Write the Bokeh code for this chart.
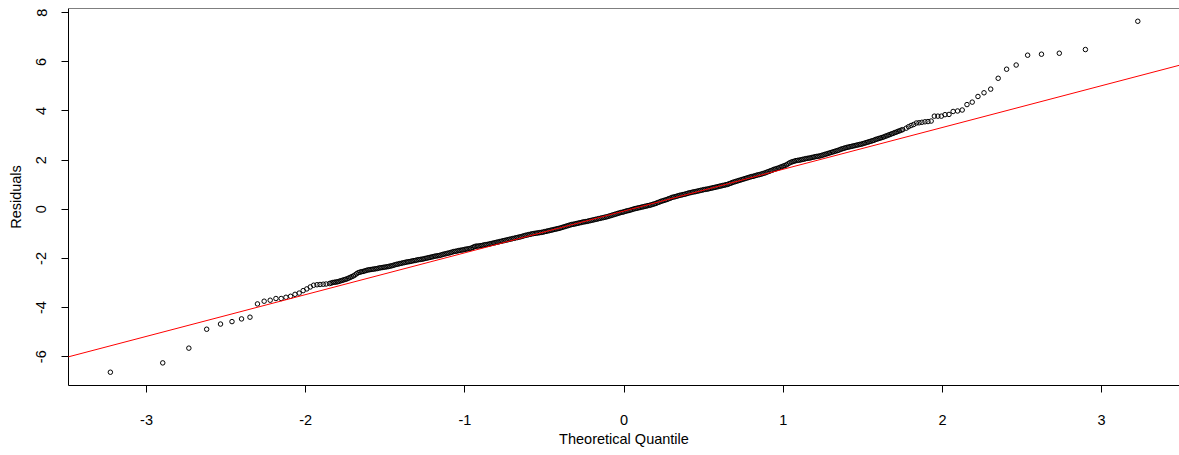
from bokeh.plotting import figure
from bokeh.models import FixedTicker, Slope, Span, Range1d
from bokeh.embed import file_html
from bokeh.resources import INLINE

# Theoretical quantiles (x) and sorted residuals (y)
tail_low_theo = [-3.227, -2.898, -2.734, -2.622, -2.535, -2.463, -2.403, -2.350, -2.303, -2.261,
                 -2.223, -2.187, -2.154, -2.124, -2.095, -2.067, -2.041, -2.016, -1.993, -1.971,
                 -1.950, -1.929, -1.910, -1.890, -1.872]
tail_low_resid = [-6.63, -6.25, -5.65, -4.88, -4.67, -4.57, -4.46, -4.39, -3.85, -3.74,
                  -3.70, -3.63, -3.63, -3.58, -3.54, -3.46, -3.41, -3.31, -3.24, -3.16,
                  -3.09, -3.07, -3.06, -3.05, -3.04]

mid_theo = [
    -1.85, -1.84, -1.83, -1.82, -1.81, -1.80, -1.79, -1.78, -1.77, -1.76,
    -1.75, -1.74, -1.73, -1.72, -1.71, -1.70, -1.69, -1.68, -1.67, -1.66,
    -1.65, -1.64, -1.63, -1.62, -1.61, -1.60, -1.59, -1.58, -1.57, -1.56,
    -1.55, -1.54, -1.53, -1.52, -1.51, -1.50, -1.49, -1.48, -1.47, -1.46,
    -1.45, -1.44, -1.43, -1.42, -1.41, -1.40, -1.39, -1.38, -1.37, -1.36,
    -1.35, -1.34, -1.33, -1.32, -1.31, -1.30, -1.29, -1.28, -1.27, -1.26,
    -1.25, -1.24, -1.23, -1.22, -1.21, -1.20, -1.19, -1.18, -1.17, -1.16,
    -1.15, -1.14, -1.13, -1.12, -1.11, -1.10, -1.09, -1.08, -1.07, -1.06,
    -1.05, -1.04, -1.03, -1.02, -1.01, -1.00, -0.99, -0.98, -0.97, -0.96,
    -0.95, -0.94, -0.93, -0.92, -0.91, -0.90, -0.89, -0.88, -0.87, -0.86,
    -0.85, -0.84, -0.83, -0.82, -0.81, -0.80, -0.79, -0.78, -0.77, -0.76,
    -0.75, -0.74, -0.73, -0.72, -0.71, -0.70, -0.69, -0.68, -0.67, -0.66,
    -0.65, -0.64, -0.63, -0.62, -0.61, -0.60, -0.59, -0.58, -0.57, -0.56,
    -0.55, -0.54, -0.53, -0.52, -0.51, -0.50, -0.49, -0.48, -0.47, -0.46,
    -0.45, -0.44, -0.43, -0.42, -0.41, -0.40, -0.39, -0.38, -0.37, -0.36,
    -0.35, -0.34, -0.33, -0.32, -0.31, -0.30, -0.29, -0.28, -0.27, -0.26,
    -0.25, -0.24, -0.23, -0.22, -0.21, -0.20, -0.19, -0.18, -0.17, -0.16,
    -0.15, -0.14, -0.13, -0.12, -0.11, -0.10, -0.09, -0.08, -0.07, -0.06,
    -0.05, -0.04, -0.03, -0.02, -0.01, 0.00, 0.01, 0.02, 0.03, 0.04,
    0.05, 0.06, 0.07, 0.08, 0.09, 0.10, 0.11, 0.12, 0.13, 0.14,
    0.15, 0.16, 0.17, 0.18, 0.19, 0.20, 0.21, 0.22, 0.23, 0.24,
    0.25, 0.26, 0.27, 0.28, 0.29, 0.30, 0.31, 0.32, 0.33, 0.34,
    0.35, 0.36, 0.37, 0.38, 0.39, 0.40, 0.41, 0.42, 0.43, 0.44,
    0.45, 0.46, 0.47, 0.48, 0.49, 0.50, 0.51, 0.52, 0.53, 0.54,
    0.55, 0.56, 0.57, 0.58, 0.59, 0.60, 0.61, 0.62, 0.63, 0.64,
    0.65, 0.66, 0.67, 0.68, 0.69, 0.70, 0.71, 0.72, 0.73, 0.74,
    0.75, 0.76, 0.77, 0.78, 0.79, 0.80, 0.81, 0.82, 0.83, 0.84,
    0.85, 0.86, 0.87, 0.88, 0.89, 0.90, 0.91, 0.92, 0.93, 0.94,
    0.95, 0.96, 0.97, 0.98, 0.99, 1.00, 1.01, 1.02, 1.03, 1.04,
    1.05, 1.06, 1.07, 1.08, 1.09, 1.10, 1.11, 1.12, 1.13, 1.14,
    1.15, 1.16, 1.17, 1.18, 1.19, 1.20, 1.21, 1.22, 1.23, 1.24,
    1.25, 1.26, 1.27, 1.28, 1.29, 1.30, 1.31, 1.32, 1.33, 1.34,
    1.35, 1.36, 1.37, 1.38, 1.39, 1.40, 1.41, 1.42, 1.43, 1.44,
    1.45, 1.46, 1.47, 1.48, 1.49, 1.50, 1.51, 1.52, 1.53, 1.54,
    1.55, 1.56, 1.57, 1.58, 1.59, 1.60, 1.61, 1.62, 1.63, 1.64,
    1.65, 1.66, 1.67, 1.68, 1.69, 1.70, 1.71, 1.72, 1.73, 1.74,
    1.75]
mid_resid = [
    -3.02, -3.00, -2.98, -2.97, -2.96, -2.95, -2.93, -2.91, -2.89, -2.87,
    -2.85, -2.83, -2.80, -2.77, -2.74, -2.71, -2.67, -2.62, -2.58, -2.56,
    -2.54, -2.53, -2.51, -2.49, -2.47, -2.46, -2.45, -2.44, -2.43, -2.42,
    -2.41, -2.39, -2.38, -2.37, -2.36, -2.35, -2.34, -2.33, -2.31, -2.30,
    -2.28, -2.26, -2.24, -2.23, -2.21, -2.20, -2.18, -2.17, -2.15, -2.14,
    -2.13, -2.12, -2.10, -2.09, -2.08, -2.06, -2.05, -2.04, -2.03, -2.02,
    -2.00, -1.99, -1.97, -1.96, -1.94, -1.93, -1.91, -1.90, -1.89, -1.88,
    -1.86, -1.84, -1.82, -1.81, -1.79, -1.78, -1.76, -1.74, -1.72, -1.71,
    -1.70, -1.68, -1.67, -1.66, -1.65, -1.63, -1.62, -1.61, -1.60, -1.58,
    -1.55, -1.52, -1.50, -1.50, -1.49, -1.48, -1.47, -1.45, -1.44, -1.43,
    -1.42, -1.40, -1.39, -1.37, -1.36, -1.34, -1.33, -1.31, -1.30, -1.28,
    -1.27, -1.25, -1.24, -1.22, -1.21, -1.19, -1.18, -1.16, -1.15, -1.13,
    -1.12, -1.10, -1.08, -1.06, -1.05, -1.03, -1.02, -1.00, -0.99, -0.98,
    -0.97, -0.96, -0.95, -0.94, -0.93, -0.91, -0.90, -0.88, -0.87, -0.85,
    -0.84, -0.82, -0.81, -0.79, -0.78, -0.76, -0.74, -0.72, -0.70, -0.68,
    -0.66, -0.64, -0.62, -0.61, -0.60, -0.58, -0.57, -0.55, -0.54, -0.52,
    -0.51, -0.50, -0.49, -0.47, -0.46, -0.44, -0.43, -0.41, -0.40, -0.38,
    -0.37, -0.35, -0.34, -0.32, -0.31, -0.29, -0.27, -0.25, -0.23, -0.21,
    -0.19, -0.17, -0.15, -0.13, -0.12, -0.10, -0.08, -0.06, -0.05, -0.03,
    -0.01, 0.01, 0.03, 0.04, 0.06, 0.07, 0.09, 0.10, 0.12, 0.13,
    0.15, 0.16, 0.18, 0.20, 0.22, 0.24, 0.27, 0.29, 0.32, 0.34,
    0.36, 0.38, 0.40, 0.43, 0.45, 0.48, 0.50, 0.51, 0.53, 0.55,
    0.57, 0.58, 0.60, 0.61, 0.63, 0.65, 0.67, 0.68, 0.70, 0.71,
    0.72, 0.74, 0.75, 0.77, 0.78, 0.80, 0.81, 0.82, 0.83, 0.85,
    0.86, 0.88, 0.89, 0.91, 0.92, 0.94, 0.95, 0.97, 0.98, 1.00,
    1.01, 1.04, 1.06, 1.09, 1.11, 1.13, 1.15, 1.17, 1.19, 1.21,
    1.23, 1.25, 1.27, 1.29, 1.31, 1.33, 1.34, 1.36, 1.38, 1.40,
    1.41, 1.43, 1.45, 1.47, 1.49, 1.52, 1.54, 1.57, 1.59, 1.62,
    1.64, 1.66, 1.68, 1.71, 1.73, 1.76, 1.78, 1.81, 1.85, 1.89,
    1.92, 1.94, 1.96, 1.98, 1.99, 2.00, 2.01, 2.03, 2.04, 2.06,
    2.07, 2.08, 2.09, 2.11, 2.12, 2.14, 2.15, 2.16, 2.17, 2.19,
    2.21, 2.23, 2.25, 2.27, 2.29, 2.31, 2.33, 2.35, 2.37, 2.39,
    2.41, 2.44, 2.46, 2.48, 2.50, 2.52, 2.53, 2.55, 2.56, 2.58,
    2.59, 2.61, 2.62, 2.64, 2.65, 2.67, 2.69, 2.71, 2.73, 2.75,
    2.77, 2.79, 2.81, 2.84, 2.86, 2.88, 2.90, 2.92, 2.94, 2.97,
    2.99, 3.02, 3.04, 3.07, 3.09, 3.12, 3.14, 3.17, 3.19, 3.22,
    3.24]

tail_high_theo = [1.772, 1.787, 1.803, 1.819, 1.836, 1.853, 1.871, 1.890, 1.909, 1.929,
                  1.949, 1.971, 1.993, 2.016, 2.041, 2.067, 2.095, 2.124, 2.154, 2.187,
                  2.223, 2.261, 2.303, 2.350, 2.403, 2.463, 2.535, 2.622, 2.734, 2.898,
                  3.227]
tail_high_resid = [3.30, 3.36, 3.41, 3.45, 3.51, 3.52, 3.54, 3.56, 3.57, 3.59,
                   3.79, 3.79, 3.79, 3.85, 3.86, 3.98, 4.00, 4.04, 4.26, 4.36,
                   4.59, 4.74, 4.89, 5.33, 5.70, 5.87, 6.27, 6.31, 6.35, 6.50,
                   7.65]

# Reference line (qqline) parameters
line_slope = 1.70
line_intercept = -0.07

x_ticks = [-3, -2, -1, 0, 1, 2, 3]
y_ticks = [-6, -4, -2, 0, 2, 4, 6, 8]
x_title = "Theoretical Quantile"
y_title = "Residuals"

theo = tail_low_theo + mid_theo + tail_high_theo
resid = tail_low_resid + mid_resid + tail_high_resid

FONT = "Liberation Sans"
FS = "14.5px"
Y_TOP = 8.17

p = figure(width=1179, height=449,
           x_range=Range1d(-3.49, 3.489), y_range=Range1d(-7.17, Y_TOP),
           output_backend="svg", toolbar_location=None,
           min_border_left=68, min_border_right=0, min_border_top=8, min_border_bottom=64)
p.outline_line_color = None
p.grid.visible = False
p.background_fill_color = "white"
p.border_fill_color = "white"

p.scatter(theo, resid, marker="circle", size=4.5, fill_color=None,
          line_color="black", line_width=1)

p.add_layout(Slope(gradient=line_slope, y_intercept=line_intercept,
                   line_color="#ff0000", line_width=1))
p.add_layout(Span(location=Y_TOP, dimension="width", line_color="black", line_width=1))

for ax in (p.xaxis[0], p.yaxis[0]):
    ax.axis_line_color = "black"
    ax.axis_line_width = 1
    ax.major_tick_in = 0
    ax.major_tick_out = 7
    ax.major_tick_line_color = "black"
    ax.minor_tick_line_color = None
    ax.major_label_text_font = FONT
    ax.major_label_text_font_size = FS
    ax.major_label_text_color = "black"
    ax.axis_label_text_font = FONT
    ax.axis_label_text_font_size = FS
    ax.axis_label_text_font_style = "normal"
    ax.axis_label_text_color = "black"

p.xaxis.ticker = FixedTicker(ticks=x_ticks)
p.xaxis.major_label_overrides = {t: str(t) for t in x_ticks}
p.xaxis.axis_label = x_title
p.xaxis.major_label_standoff = 22
p.xaxis.axis_label_standoff = 3

p.yaxis.ticker = FixedTicker(ticks=y_ticks)
p.yaxis.major_label_overrides = {t: str(t) for t in y_ticks}
p.yaxis.axis_label = y_title
p.yaxis.major_label_orientation = "parallel"
p.yaxis.major_label_standoff = 15
p.yaxis.axis_label_standoff = 10

open("out.html", "w").write(file_html(p, INLINE))
